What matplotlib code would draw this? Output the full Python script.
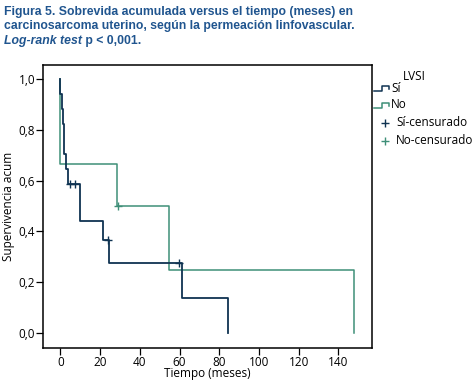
import matplotlib.pyplot as plt
from matplotlib.lines import Line2D

# step data (months, cumulative survival)
si_times = [0, 0.7, 1.2, 1.9, 3.0, 4.0, 10.0, 21.5, 24.6, 61.3, 84.5]
si_surv = [1.0, 0.941, 0.882, 0.824, 0.706, 0.647, 0.588, 0.441, 0.368, 0.276, 0.138, 0.0]
si_cens_t = [5.0, 7.3, 23.8, 59.5]
si_cens_s = [0.588, 0.588, 0.368, 0.276]

no_times = [0, 0.01, 28.3, 54.8, 148.0]
no_surv = [1.0, 0.833, 0.667, 0.5, 0.25, 0.0]
no_cens_t = [28.8]
no_cens_s = [0.5]

yticks = [0.0, 0.2, 0.4, 0.6, 0.8, 1.0]
ytick_labels = ['0,0', '0,2', '0,4', '0,6', '0,8', '1,0']
xticks = [0, 20, 40, 60, 80, 100, 120, 140]

navy = '#0f3352'
green = '#3e8f78'
title_color = '#20558f'
W, H = 477, 384


def step_xy(times, surv):
    xs, ys = [times[0]], [surv[0]]
    for t, s in zip(times, surv[1:]):
        xs += [t, t]
        ys += [ys[-1], s]
    return xs, ys


def px(x, y):
    return x / W, 1 - y / H


plt.rcParams['font.family'] = ['Open Sans', 'DejaVu Sans']
fig = plt.figure(figsize=(W / 100, H / 100), dpi=100)
ax = fig.add_axes([43 / W, 1 - 348 / H, (372 - 43) / W, (348 - 65) / H])

xs, ys = step_xy(no_times, no_surv)
ax.plot(xs, ys, color=green, lw=1.1)
xs, ys = step_xy(si_times, si_surv)
ax.plot(xs, ys, color=navy, lw=1.3)
ax.plot(si_cens_t, si_cens_s, '+', color=navy, ms=6, mew=1.0)
ax.plot(no_cens_t, no_cens_s, '+', color=green, ms=6, mew=1.0)

ax.set_xlim(-8.8, 157)
ax.set_ylim(-0.059, 1.055)
ax.set_xticks(xticks)
ax.set_yticks(yticks)
ax.set_yticklabels(ytick_labels)
ax.tick_params(direction='out', length=5, width=0.9, labelsize=8.5, pad=0.5, top=False, right=False)
for sp in ax.spines.values():
    sp.set_linewidth(1.1)
ax.set_xlabel('Tiempo (meses)', fontsize=8.5, labelpad=-1)
ax.set_ylabel('Supervivencia acum', fontsize=8.5, labelpad=3)

# title
tkw = dict(fontsize=8.8, fontweight='bold', color=title_color, family='Liberation Sans', va='baseline')
fig.text(*px(4, 15), 'Figura 5. Sobrevida acumulada versus el tiempo (meses) en', **tkw)
fig.text(*px(4, 29.5), 'carcinosarcoma uterino, según la permeación linfovascular.', **tkw)
t = fig.text(*px(4, 44), 'Log-rank test', style='italic', **tkw)
fig.canvas.draw()
bb = t.get_window_extent()
fig.text(bb.x1 / W, 1 - 44 / H, ' p < 0,001.', **tkw)

# legend drawn by hand
fig.text(*px(403, 77), 'LVSI', fontsize=8.5, va='center')
for y, col, lab in [(88, navy, 'Sí'), (105, green, 'No')]:
    fig.add_artist(Line2D([374 / W, 382 / W, 382 / W, 389 / W, 389 / W],
                          [1 - (y + 3) / H, 1 - (y + 3) / H, 1 - (y - 2) / H, 1 - (y - 2) / H, 1 - (y + 1) / H],
                          color=col, lw=1.1, transform=fig.transFigure))
    fig.text(*px(391, y), lab, fontsize=8.5, va='center')
for y, col, lab in [(123, navy, 'Sí-censurado'), (141, green, 'No-censurado')]:
    fig.add_artist(Line2D([385 / W], [1 - y / H], marker='+', ms=6, mew=1.0, color=col,
                          transform=fig.transFigure))
    fig.text(*px(396, y), lab, fontsize=8.5, va='center')

fig.savefig('out.png', dpi=100)
